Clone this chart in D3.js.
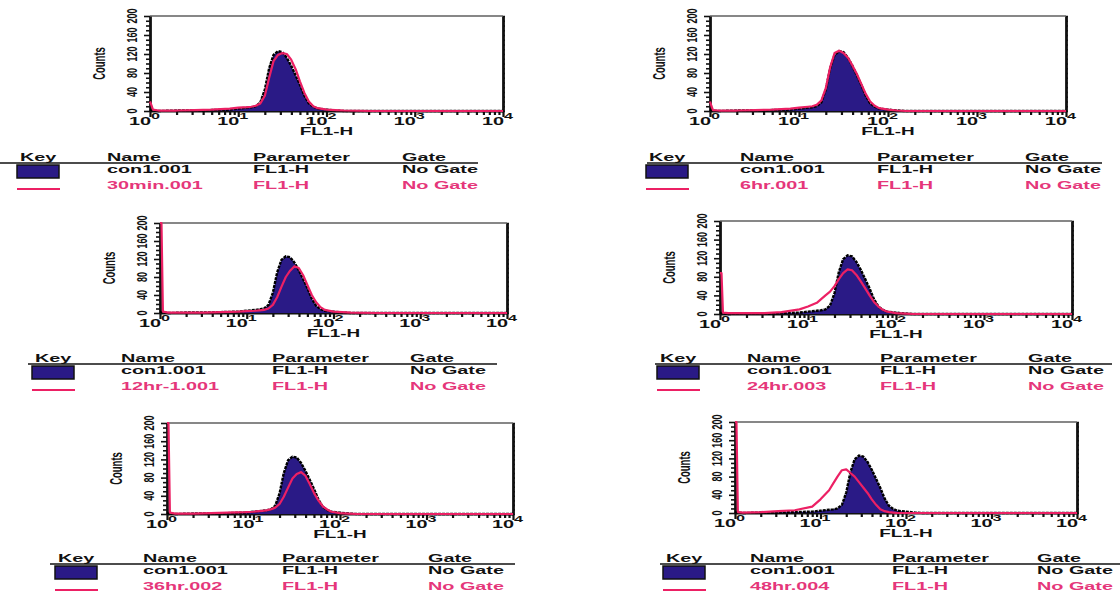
<!DOCTYPE html>
<html>
<head>
<meta charset="utf-8">
<script src="https://cdn.jsdelivr.net/npm/d3@7"></script>
<style>
  body { margin: 0; background: #fff; }
  svg { display: block; font-family: "Liberation Sans", Arial, sans-serif; font-weight: bold; }
</style>
</head>
<body>
<svg id="chart" width="1120" height="595"></svg>
<script>
// FL1-H channel positions (shared by every histogram)
const bins = [1, 1.04, 1.08, 1.25, 2, 3.2, 5, 8, 10, 12.6, 14.1, 15.8, 17.8, 20, 22.4, 25.1, 28.2, 31.6, 35.5, 39.8, 44.7, 50.1, 56.2, 63.1, 70.8, 79.4, 100, 126, 158, 316, 1000, 3162, 10000];

// control file, drawn filled in every panel
const con1 = [3, 2, 1, 0, 1, 1, 2, 3, 5, 7, 8, 10, 18, 45, 90, 118, 126, 124, 112, 95, 75, 55, 32, 16, 9, 5, 3, 1, 0, 0, 0, 0, 0];

// treated samples, drawn as pink outlines
const s30min = [20, 12, 3, 1, 1, 2, 3, 5, 7, 8, 9, 11, 16, 32, 70, 105, 118, 122, 120, 108, 88, 62, 38, 20, 10, 6, 3, 2, 1, 0, 0, 0, 0];
const s6hr = [20, 10, 2, 1, 1, 2, 3, 5, 7, 9, 10, 13, 22, 48, 92, 122, 127, 122, 112, 96, 78, 57, 36, 20, 11, 6, 3, 1, 0, 0, 0, 0, 0];
const s12hr = [200, 200, 3, 1, 1, 1, 2, 3, 4, 5, 6, 7, 10, 18, 35, 58, 80, 94, 104, 100, 84, 62, 40, 24, 13, 7, 3, 2, 1, 0, 0, 0, 0];
const s24hr = [88, 88, 3, 2, 2, 2, 4, 10, 16, 24, 32, 40, 48, 60, 75, 88, 96, 94, 84, 70, 55, 40, 26, 16, 9, 5, 2, 1, 0, 0, 0, 0, 0];
const s36hr = [200, 200, 3, 1, 1, 2, 3, 4, 5, 7, 8, 10, 14, 22, 38, 58, 78, 88, 92, 84, 66, 46, 30, 17, 10, 5, 2, 1, 0, 0, 0, 0, 0];
const s48hr = [200, 200, 2, 1, 2, 4, 6, 14, 30, 50, 65, 80, 94, 96, 88, 80, 68, 56, 44, 30, 18, 8, 4, 2, 1, 0, 0, 0, 0, 0, 0, 0, 0];

const sampleNames = ['30min.001', '6hr.001', '12hr-1.001', '24hr.003', '36hr.002', '48hr.004'];
const sampleCounts = [s30min, s6hr, s12hr, s24hr, s36hr, s48hr];

const controlName = 'con1.001';
const parameter = 'FL1-H';
const gate = 'No Gate';
const legendHeaders = ['Key', 'Name', 'Parameter', 'Gate'];

const countTicks = [0, 40, 80, 120, 160, 200];
const minorCountTicks = [0, 10, 20, 30, 40, 50, 60, 70, 80, 90, 100, 110, 120, 130, 140, 150, 160, 170, 180, 190, 200];
const decades = [1, 10, 100, 1000, 10000];
const decadeExp = ['0', '1', '2', '3', '4'];

// where each panel sits on the (slightly skewed) scanned page
const layout = [
	{ x0: 150, x1: 503, y0: 16, y1: 111, headY: 161, keyX: 20, nameX: 107, paramX: 253, gateX: 402, lx0: 0, lx1: 478 },
	{ x0: 710, x1: 1066, y0: 16, y1: 111, headY: 161, keyX: 649, nameX: 740, paramX: 877, gateX: 1025, lx0: 647, lx1: 1102 },
	{ x0: 160, x1: 507, y0: 223, y1: 313, headY: 362, keyX: 35, nameX: 121, paramX: 272, gateX: 410, lx0: 28, lx1: 497 },
	{ x0: 720, x1: 1072, y0: 221, y1: 314, headY: 362, keyX: 660, nameX: 747, paramX: 880, gateX: 1028, lx0: 655, lx1: 1112 },
	{ x0: 167, x1: 513, y0: 423, y1: 514, headY: 562, keyX: 58, nameX: 143, paramX: 282, gateX: 428, lx0: 50, lx1: 515 },
	{ x0: 735, x1: 1077, y0: 422, y1: 513, headY: 562, keyX: 666, nameX: 750, paramX: 892, gateX: 1037, lx0: 660, lx1: 1120 }
];

const NAVY = '#2a1a86';
const PINK = '#ec2064';
const PINK_TEXT = '#e5367a';
const INK = '#111';
const STRETCH = 1.8;

const svg = d3.select('#chart');

// the scan is squashed vertically, so widen the text to match
function stretch(sel) {
	sel.each(function () {
		const len = this.getComputedTextLength();
		d3.select(this).attr('textLength', len * STRETCH).attr('lengthAdjust', 'spacingAndGlyphs');
	});
}

const isDecade = d => Math.abs(Math.log10(d) - Math.round(Math.log10(d))) < 1e-6;

sampleCounts.forEach((counts, i) => {
	const L = layout[i];
	const x = d3.scaleLog().domain([1, 10000]).range([L.x0, L.x1]);
	const y = d3.scaleLinear().domain([0, 200]).range([L.y1, L.y0]);
	const g = svg.append('g');

	// frame and axes
	g.append('line')
		.attr('x1', L.x0).attr('x2', L.x1).attr('y1', L.y0).attr('y2', L.y0)
		.attr('stroke', INK).attr('stroke-width', 1.2);

	const bottom = g.append('g')
		.attr('transform', `translate(0,${L.y1})`)
		.call(d3.axisBottom(x).tickFormat('').tickSize(4).tickSizeOuter(0));
	bottom.select('.domain').attr('stroke', INK).attr('stroke-width', 2);
	bottom.selectAll('.tick line')
		.attr('stroke', INK).attr('stroke-width', 2.2)
		.attr('y2', d => (isDecade(d) ? 6 : 4));

	const left = g.append('g')
		.attr('transform', `translate(${L.x0},0)`)
		.call(d3.axisLeft(y).tickValues(minorCountTicks).tickFormat('').tickSize(3).tickSizeOuter(0));
	left.select('.domain').attr('stroke', INK).attr('stroke-width', 2.8);
	left.selectAll('.tick line')
		.attr('stroke', INK).attr('stroke-width', 1.6)
		.attr('x2', d => (countTicks.includes(d) ? -6 : -4));

	const right = g.append('g')
		.attr('transform', `translate(${L.x1},0)`)
		.call(d3.axisRight(y).tickValues(minorCountTicks).tickFormat('').tickSize(2).tickSizeOuter(0));
	right.select('.domain').attr('stroke', INK).attr('stroke-width', 2.8);
	right.selectAll('.tick line').attr('stroke', INK).attr('stroke-width', 1.6);

	// count labels, rotated
	g.selectAll('.ylab')
		.data(countTicks)
		.join('text')
		.attr('class', 'ylab')
		.attr('transform', d => `translate(${L.x0 - 13},${y(d)}) scale(1.6,1) rotate(-90)`)
		.attr('text-anchor', 'middle')
		.attr('font-size', 9)
		.attr('fill', INK)
		.text(d => d);

	g.append('text')
		.attr('transform', `translate(${L.x0 - 45},${(L.y0 + L.y1) / 2}) scale(1.7,1) rotate(-90)`)
		.attr('text-anchor', 'middle')
		.attr('font-size', 9.5)
		.attr('fill', INK)
		.text('Counts');

	// decade labels 10^n
	g.selectAll('.xbase')
		.data(decades)
		.join('text')
		.attr('class', 'xbase')
		.attr('x', d => x(d) + 1)
		.attr('y', L.y1 + 14)
		.attr('text-anchor', 'end')
		.attr('font-size', 11)
		.attr('fill', INK)
		.text('10')
		.call(stretch);
	g.selectAll('.xexp')
		.data(decades)
		.join('text')
		.attr('class', 'xexp')
		.attr('x', d => x(d) + 1)
		.attr('y', L.y1 + 8)
		.attr('font-size', 9)
		.attr('fill', INK)
		.text((d, k) => decadeExp[k])
		.call(stretch);

	g.append('text')
		.attr('x', (L.x0 + L.x1) / 2)
		.attr('y', L.y1 + 24)
		.attr('text-anchor', 'middle')
		.attr('font-size', 10.5)
		.attr('fill', INK)
		.text(parameter)
		.call(stretch);

	// histograms
	const area = d3.area().x((d, j) => x(bins[j])).y0(L.y1).y1(d => y(d));
	const line = d3.line().x((d, j) => x(bins[j])).y(d => y(d));

	g.append('path').datum(con1).attr('d', area).attr('fill', NAVY);
	g.append('path').datum(con1).attr('d', line)
		.attr('fill', 'none').attr('stroke', '#000').attr('stroke-width', 2.4)
		.attr('stroke-dasharray', '3 1');
	g.append('path').datum(counts).attr('d', line)
		.attr('fill', 'none').attr('stroke', PINK).attr('stroke-width', 2.2).attr('stroke-linejoin', 'round');

	// key table
	const lg = svg.append('g');
	const cols = [L.keyX, L.nameX, L.paramX, L.gateX];
	lg.selectAll('.head')
		.data(legendHeaders)
		.join('text')
		.attr('x', (d, k) => cols[k])
		.attr('y', L.headY)
		.attr('font-size', 11)
		.attr('fill', INK)
		.text(d => d)
		.call(stretch);
	lg.append('line')
		.attr('x1', L.lx0).attr('x2', L.lx1).attr('y1', L.headY + 2).attr('y2', L.headY + 2)
		.attr('stroke', INK).attr('stroke-width', 1.5);

	const rows = [
		{ cells: [controlName, parameter, gate], color: INK, dy: 12 },
		{ cells: [sampleNames[i], parameter, gate], color: PINK_TEXT, dy: 28 }
	];
	rows.forEach(r => {
		lg.selectAll(null)
			.data(r.cells)
			.join('text')
			.attr('x', (d, k) => cols[k + 1])
			.attr('y', L.headY + r.dy)
			.attr('font-size', 11)
			.attr('fill', r.color)
			.text(d => d)
			.call(stretch);
	});

	lg.append('rect')
		.attr('x', L.keyX - 3).attr('y', L.headY + 4)
		.attr('width', 42).attr('height', 13)
		.attr('fill', NAVY).attr('stroke', INK).attr('stroke-width', 1.5);
	lg.append('line')
		.attr('x1', L.keyX - 3).attr('x2', L.keyX + 40)
		.attr('y1', L.headY + 28).attr('y2', L.headY + 28)
		.attr('stroke', PINK).attr('stroke-width', 2);
});
</script>
</body>
</html>
